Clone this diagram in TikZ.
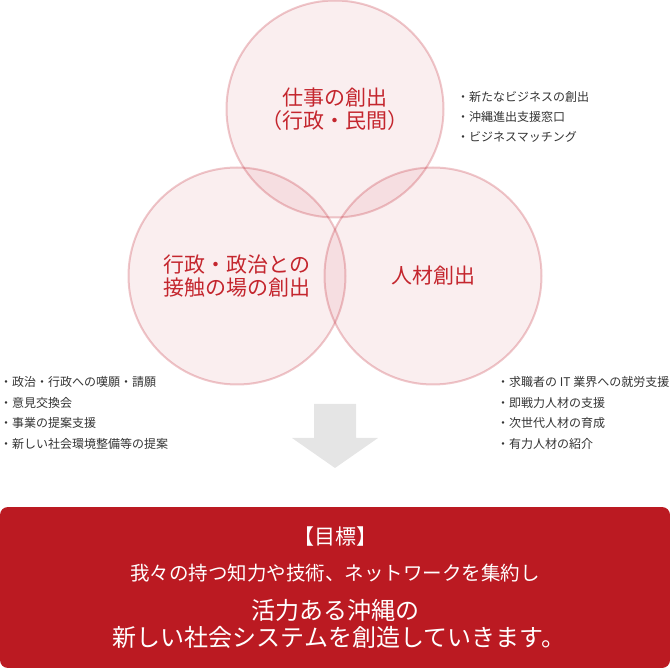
\documentclass[tikz,border=0pt]{standalone}
\usepackage{fontspec}
\setmainfont{Noto Sans CJK JP}
\definecolor{vennred}{HTML}{BE1E2D}
\definecolor{titlered}{HTML}{C4262E}
\definecolor{itemgray}{HTML}{333333}
\definecolor{arrowgray}{HTML}{E5E5E5}
\definecolor{goalred}{HTML}{BB1A22}
\begin{document}
\begin{tikzpicture}[x=1pt,y=-1pt,
  venn/.style={circle,minimum size=217pt,inner sep=0pt,fill=vennred,fill opacity=0.075,
    draw=vennred,draw opacity=0.25,line width=2pt,text opacity=1,text=titlered,
    align=center,font=\fontsize{21}{23}\selectfont},
  item/.style={anchor=west,inner sep=0pt,text=itemgray,font=\fontsize{12}{13}\selectfont},
  goaltext/.style={text=white,inner sep=0pt}]
  \useasboundingbox (0,0) rectangle (670,668);

  \node[venn] (jobs) at (335,109) {仕事の創出\\（行政・民間）};
  \node[venn] (politics) at (237,276) {行政・政治との\\接触の場の創出};
  \node[venn] (people) at (433,276) {人材創出};

  \foreach \txt [count=\i] in {新たなビジネスの創出,沖縄進出支援窓口,ビジネスマッチング}
    \node[item] (jobs\i) at (457,{77+20*\i}) {・\txt};
  \foreach \txt [count=\i] in {政治・行政への嘆願・請願,意見交換会,事業の提案支援,新しい社会環境整備等の提案}
    \node[item] (politics\i) at (0,{361.3+20.7*\i}) {・\txt};
  \foreach \txt [count=\i] in {求職者の IT 業界への就労支援,即戦力人材の支援,次世代人材の育成,有力人材の紹介}
    \node[item] (people\i) at (497,{361.3+20.7*\i}) {・\txt};

  \fill[arrowgray] (314,404) -- (356,404) -- (356,438) -- (378,438) -- (335,468)
    -- (292,438) -- (314,438) -- cycle;

  \node[fill=goalred,rounded corners=8pt,minimum width=670pt,minimum height=161pt,
    inner sep=0pt] (goal) at (335,587.5) {};
  \node[goaltext,font=\fontsize{21}{21}\selectfont] (goalhead) at (335,537) {【目標】};
  \node[goaltext,font=\fontsize{19.5}{19.5}\selectfont] (goalsub) at (335,573) {我々の持つ知力や技術、ネットワークを集約し};
  \node[goaltext,font=\fontsize{24}{24}\selectfont] (goalline1) at (335,610) {活力ある沖縄の};
  \node[goaltext,font=\fontsize{24}{24}\selectfont] (goalline2) at (339,637) {新しい社会システムを創造していきます。};
\end{tikzpicture}
\end{document}
